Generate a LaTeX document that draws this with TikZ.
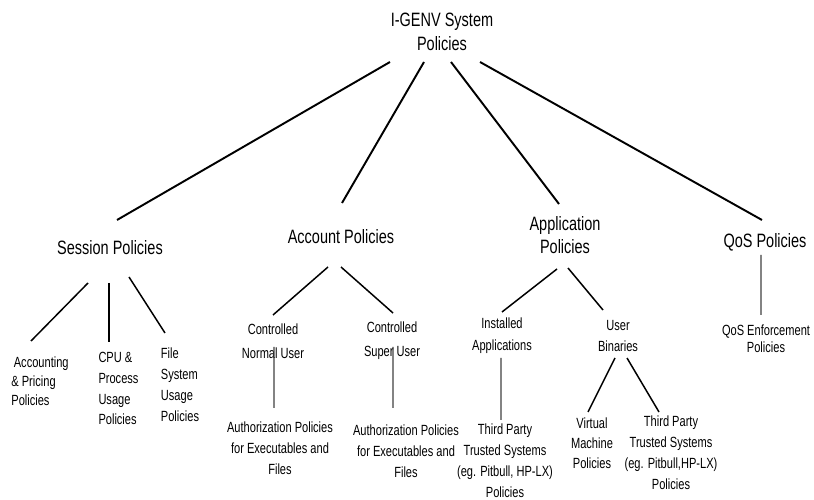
\documentclass[tikz,border=0pt]{standalone}
\usepackage{fontspec}
\setmainfont{Liberation Sans}[FakeStretch=0.75]

\begin{document}
\begin{tikzpicture}[
	big/.style={draw=none,align=center,inner sep=0pt,font=\fontsize{11}{13.3}\selectfont},
	small/.style={draw=none,align=center,inner sep=0pt,font=\fontsize{8.4}{11.9}\selectfont},
	upper/.style={line width=1.1pt},
	lower/.style={line width=0.85pt},
	stem/.style={line width=0.6pt,black!75}]
	\useasboundingbox (0,0) rectangle (16.28,-10);
	
	\node (root)[big] at (8.84,-0.64) {I-GENV System\\Policies};
	
	\node (sess)[big] at (2.20,-4.96) {Session Policies};
	\node (acct)[big] at (6.82,-4.74) {Account Policies};
	\node (appl)[big] at (11.30,-4.70) {Application\\Policies};
	\node (qos)[big] at (15.30,-4.84) {QoS Policies};
	
	\node (acc)[small,align=left,font=\fontsize{8.4}{10.8}\selectfont] at (0.80,-7.62) {\,Accounting\\\& Pricing\\Policies};
	\node (cpu)[small,align=left] at (2.37,-7.77) {CPU \&\\Process\\Usage\\Policies};
	\node (fsys)[small,align=left] at (3.60,-7.69) {File\\System\\Usage\\Policies};
	
	\node (ncu)[small,font=\fontsize{8.4}{13.6}\selectfont] at (5.46,-6.82) {Controlled\\Normal User};
	\node (scu)[small,font=\fontsize{8.4}{13.6}\selectfont] at (7.84,-6.82) {Controlled\\Super User};
	\node (auth1)[small] at (5.60,-8.96) {Authorization Policies\\for Executables and\\Files};
	\node (auth2)[small] at (8.12,-9.02) {Authorization Policies\\for Executables and\\Files};
	
	\node (inst)[small,font=\fontsize{8.4}{12.5}\selectfont] at (10.04,-6.72) {Installed\\Applications};
	\node (ubin)[small,font=\fontsize{8.4}{12.5}\selectfont] at (12.36,-6.72) {User\\Binaries};
	\node (tp1)[small] at (10.10,-9.22) {Third Party\\Trusted Systems\\(eg. Pitbull, HP-LX)\\Policies};
	\node (vm)[small,font=\fontsize{8.4}{11.4}\selectfont] at (11.84,-8.86) {Virtual\\Machine\\Policies};
	\node (tp2)[small] at (13.42,-9.06) {Third Party\\Trusted Systems\\(eg. Pitbull,HP-LX)\\Policies};
	
	\node (qose)[small,font=\fontsize{8.4}{9.8}\selectfont] at (15.32,-6.78) {QoS Enforcement\\Policies};
	
	% top level
	\draw[upper] ([shift={(-1.04,-0.60)}]root.center) -- ([shift={(0.14,0.56)}]sess.center);
	\draw[upper] ([shift={(-0.36,-0.60)}]root.center) -- ([shift={(0.02,0.68)}]acct.center);
	\draw[upper] ([shift={(0.18,-0.60)}]root.center) -- ([shift={(-0.12,0.62)}]appl.center);
	\draw[upper] ([shift={(0.76,-0.60)}]root.center) -- ([shift={(-0.06,0.44)}]qos.center);
	
	% session
	\draw[lower] ([shift={(-0.44,-0.70)}]sess.center) -- ([shift={(-0.18,0.80)}]acc.center);
	\draw[lower] ([shift={(-0.02,-0.70)}]sess.center) -- ([shift={(-0.19,0.93)}]cpu.center);
	\draw[lower] ([shift={(0.38,-0.58)}]sess.center) -- ([shift={(-0.30,1.03)}]fsys.center);
	
	% account
	\draw[lower] ([shift={(-0.26,-0.60)}]acct.center) -- ([shift={(0,0.52)}]ncu.center);
	\draw[lower] ([shift={(0,-0.60)}]acct.center) -- ([shift={(0.02,0.56)}]scu.center);
	\draw[stem] ([shift={(0.02,-0.12)}]ncu.center) -- ([shift={(-0.12,0.80)}]auth1.center);
	\draw[stem] ([shift={(0.02,-0.12)}]scu.center) -- ([shift={(-0.26,0.86)}]auth2.center);
	
	% application
	\draw[lower] ([shift={(-0.16,-0.68)}]appl.center) -- ([shift={(0,0.48)}]inst.center);
	\draw[lower] ([shift={(0.06,-0.66)}]appl.center) -- ([shift={(-0.30,0.52)}]ubin.center);
	\draw[stem] ([shift={(-0.02,-0.44)}]inst.center) -- ([shift={(-0.08,0.82)}]tp1.center);
	\draw[lower] ([shift={(-0.06,-0.44)}]ubin.center) -- ([shift={(-0.08,0.62)}]vm.center);
	\draw[lower] ([shift={(0.18,-0.44)}]ubin.center) -- ([shift={(-0.24,0.82)}]tp2.center);
	
	% qos
	\draw[stem] ([shift={(-0.08,-0.26)}]qos.center) -- ([shift={(-0.10,0.48)}]qose.center);
\end{tikzpicture}
\end{document}
